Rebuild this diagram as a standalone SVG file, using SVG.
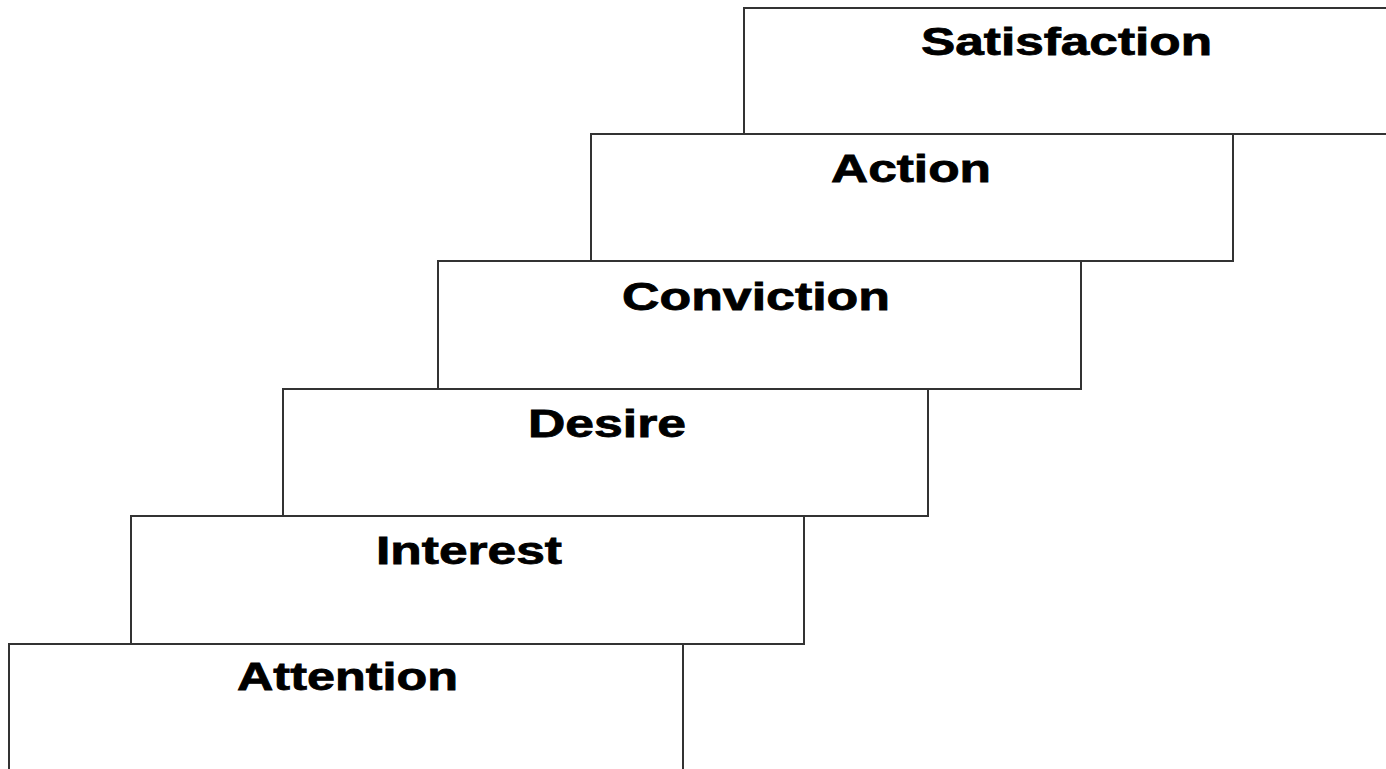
<svg xmlns="http://www.w3.org/2000/svg" width="1386" height="769" viewBox="0 0 1386 769">
<style>
.box{fill:#fff;stroke:#333;stroke-width:2}
.lbl{font-family:"Liberation Sans",Arial,sans-serif;font-weight:bold;font-size:39px;fill:#000;stroke:#000;stroke-width:0.8}
</style>
<rect width="1386" height="769" fill="#fff"/>
<g id="satisfaction"><rect class="box" x="744" y="8" width="660" height="126"/><text class="lbl" x="921" y="55" textLength="291" lengthAdjust="spacingAndGlyphs">Satisfaction</text></g>
<g id="action"><rect class="box" x="591" y="134" width="642" height="127"/><text class="lbl" x="831" y="182" textLength="160" lengthAdjust="spacingAndGlyphs">Action</text></g>
<g id="conviction"><rect class="box" x="438" y="261" width="643" height="128"/><text class="lbl" x="622" y="310" textLength="268" lengthAdjust="spacingAndGlyphs">Conviction</text></g>
<g id="desire"><rect class="box" x="283" y="389" width="645" height="127"/><text class="lbl" x="528" y="437" textLength="158" lengthAdjust="spacingAndGlyphs">Desire</text></g>
<g id="interest"><rect class="box" x="131" y="516" width="673" height="128"/><text class="lbl" x="376" y="564" textLength="186" lengthAdjust="spacingAndGlyphs">Interest</text></g>
<g id="attention"><rect class="box" x="9" y="644" width="674" height="140"/><text class="lbl" x="237" y="690" textLength="221" lengthAdjust="spacingAndGlyphs">Attention</text></g>
<g id="connectors"></g>
</svg>
